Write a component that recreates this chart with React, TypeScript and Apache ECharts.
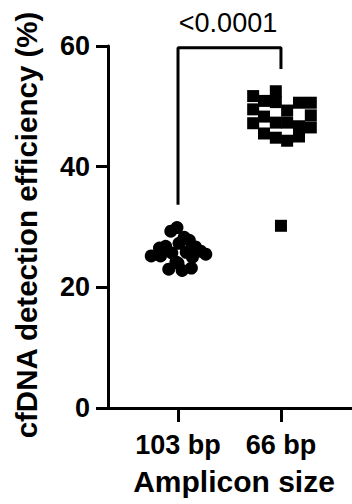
import React, { useEffect, useRef } from "react";
import * as echarts from "echarts";

const categories = ["103 bp", "66 bp"];
const groupPositions = [1, 2];

// 103 bp group (circles): values and horizontal jitter (in category units)
const values103 = [29.9, 29.3, 28.3, 27.8, 26.5, 26.8, 27.3, 26.7, 26.0, 25.5, 25.2, 25.2, 25.7, 25.8, 25.0, 24.2, 23.0, 22.8, 23.2, 24.0];
const jitter103 = [-0.01, -0.07, 0.06, 0.11, -0.18, -0.12, 0.01, 0.17, 0.22, 0.27, -0.26, -0.17, -0.06, 0.08, 0.14, -0.02, -0.09, 0.04, 0.13, 0.0];

// 66 bp group (squares)
const values66 = [52.5, 51.7, 50.9, 50.7, 49.3, 50.6, 50.6, 49.5, 48.3, 48.5, 47.2, 47.3, 47.3, 46.7, 46.5, 45.5, 44.8, 44.3, 45.0, 30.2];
const jitter66 = [-0.05, -0.27, -0.165, -0.05, 0.06, 0.175, 0.29, -0.27, -0.165, 0.29, -0.27, -0.05, 0.06, 0.175, 0.29, -0.165, -0.05, 0.06, 0.175, 0.0];

// significance bracket (y values) and label
const bracketLeftBottom = 33.7;
const bracketTop = 59.7;
const bracketRightBottom = 56.2;
const pValueLabel = "<0.0001";

const yTitle = "cfDNA detection efficiency (%)";
const xTitle = "Amplicon size";

const FONT = "Arial, 'Liberation Sans', sans-serif";

export default function App() {
  const ref = useRef<HTMLDivElement>(null);
  useEffect(() => {
    if (!ref.current) return;
    const chart = echarts.init(ref.current, null, { renderer: "svg" });
    chart.setOption({
      animation: false,
      backgroundColor: "#fff",
      grid: { left: 108, right: 0, top: 46, bottom: 96 },
      xAxis: {
        type: "value",
        min: 0.32,
        max: 2.69,
        splitLine: { show: false },
        axisLine: { show: true, lineStyle: { color: "#000", width: 3 } },
        axisTick: { show: true, customValues: groupPositions, length: 14, lineStyle: { color: "#000", width: 3 } },
        axisLabel: {
          customValues: groupPositions,
          formatter: (v: number) => categories[Math.round(v) - 1] ?? "",
          color: "#000",
          fontFamily: FONT,
          fontWeight: "bold",
          fontSize: 27,
          margin: 23,
        },
      },
      yAxis: {
        type: "value",
        min: 0,
        max: 60,
        interval: 20,
        splitLine: { show: false },
        axisLine: { show: true, lineStyle: { color: "#000", width: 3 } },
        axisTick: { show: true, length: 12, lineStyle: { color: "#000", width: 3 } },
        axisLabel: { color: "#000", fontFamily: FONT, fontWeight: "bold", fontSize: 27, margin: 18 },
      },
      series: [
        {
          type: "scatter",
          symbol: "circle",
          symbolSize: 13,
          itemStyle: { color: "#000", opacity: 1 },
          data: values103.map((v, i) => [groupPositions[0] + jitter103[i], v]),
        },
        {
          type: "scatter",
          symbol: "rect",
          symbolSize: 12,
          itemStyle: { color: "#000", opacity: 1 },
          data: values66.map((v, i) => [groupPositions[1] + jitter66[i], v]),
        },
        {
          type: "line",
          showSymbol: false,
          symbol: "none",
          clip: false,
          lineStyle: { color: "#000", width: 3 },
          data: [
            [groupPositions[0], bracketLeftBottom],
            [groupPositions[0], bracketTop],
            [groupPositions[1], bracketTop],
            [groupPositions[1], bracketRightBottom],
          ],
        },
      ],
      graphic: [
        {
          type: "text",
          x: 228,
          y: 23,
          style: { text: pValueLabel, fill: "#000", fontFamily: FONT, fontSize: 27, fontWeight: "normal", align: "center", verticalAlign: "middle" },
        },
        {
          type: "text",
          x: 26,
          y: 225,
          rotation: Math.PI / 2,
          style: { text: yTitle, fill: "#000", fontFamily: FONT, fontSize: 29.5, fontWeight: "bold", align: "center", verticalAlign: "middle" },
        },
        {
          type: "text",
          x: 234,
          y: 481,
          style: { text: xTitle, fill: "#000", fontFamily: FONT, fontSize: 30, fontWeight: "bold", align: "center", verticalAlign: "middle" },
        },
      ],
    });
    return () => chart.dispose();
  }, []);
  return <div ref={ref} style={{ position: "fixed", left: 0, top: 0, width: 352, height: 504 }} />;
}
